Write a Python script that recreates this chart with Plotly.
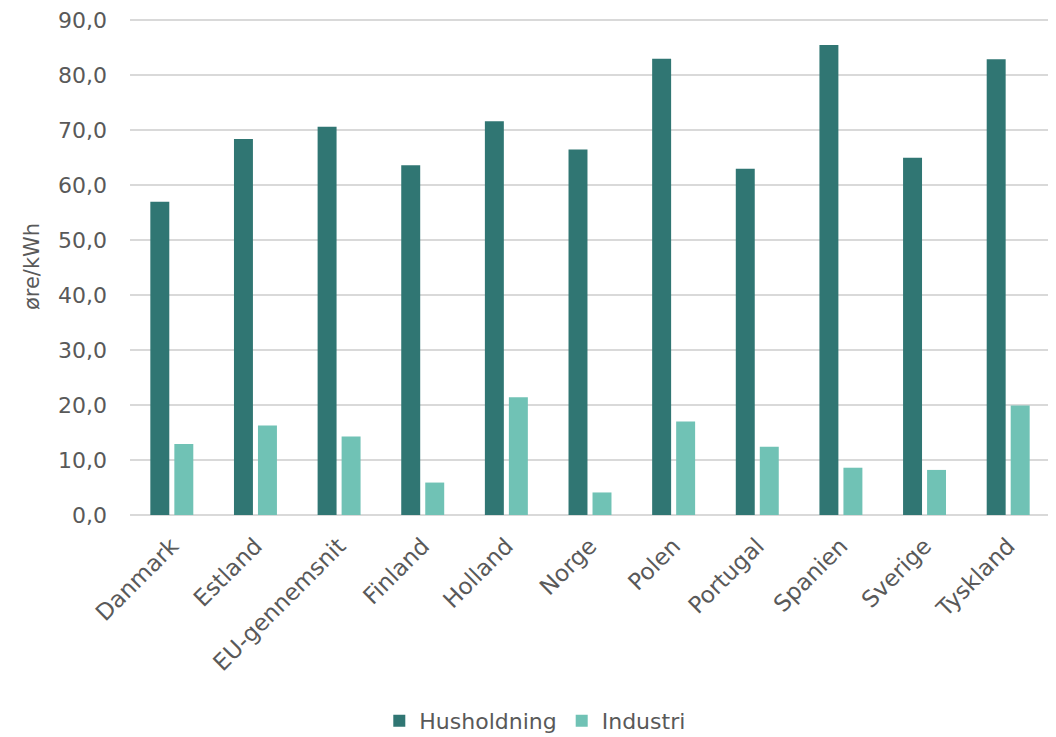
import plotly.graph_objects as go

# data
lande = ["Danmark", "Estland", "EU-gennemsnit", "Finland", "Holland", "Norge",
         "Polen", "Portugal", "Spanien", "Sverige", "Tyskland"]
husholdning = [57.0, 68.4, 70.6, 63.6, 71.6, 66.5, 83.0, 63.0, 85.5, 65.0, 82.9]
industri = [12.9, 16.3, 14.3, 5.9, 21.4, 4.1, 17.0, 12.4, 8.6, 8.2, 19.9]
y_ticks = [0, 10, 20, 30, 40, 50, 60, 70, 80, 90]

font_fam = "DejaVu Sans"
grey = "#595959"

fig = go.Figure()
fig.add_trace(go.Bar(x=lande, y=husholdning, name="Husholdning",
                     marker=dict(color="#307673", line=dict(width=0))))
fig.add_trace(go.Bar(x=lande, y=industri, name="Industri",
                     marker=dict(color="#70C2B5", line=dict(width=0))))

# page body has an 8px margin, so margins are shifted to compensate
fig.update_layout(
    width=1056, height=737,
    margin=dict(l=122, r=14, t=10, b=230, autoexpand=False),
    paper_bgcolor="white", plot_bgcolor="white",
    separators=",.",
    barmode="group", bargap=0.426, bargroupgap=0.21,
    font=dict(family=font_fam, color=grey),
    legend=dict(orientation="h", x=0.44, xanchor="center", y=-0.372, yanchor="top",
                font=dict(size=22, color=grey), itemwidth=30, traceorder="normal"),
    showlegend=True,
)
# range a bit above 90 so the top gridline is not clipped away
fig.update_yaxes(range=[0, 90.4], tickvals=y_ticks, tickformat=".1f",
                 showgrid=True, gridcolor="#D9D9D9", gridwidth=2,
                 zeroline=True, zerolinecolor="#D9D9D9", zerolinewidth=2,
                 showline=False, ticks="", ticklabelstandoff=22, automargin=False,
                 ticklabeloverflow="allow",
                 tickfont=dict(size=22, color=grey),
                 title=dict(text="øre/kWh", font=dict(size=21, color=grey), standoff=12))
fig.update_xaxes(tickangle=-45, showline=False, ticks="", showgrid=False, automargin=False,
                 ticklabelstandoff=12, tickfont=dict(size=23, color=grey))

fig.write_html("out.html")
